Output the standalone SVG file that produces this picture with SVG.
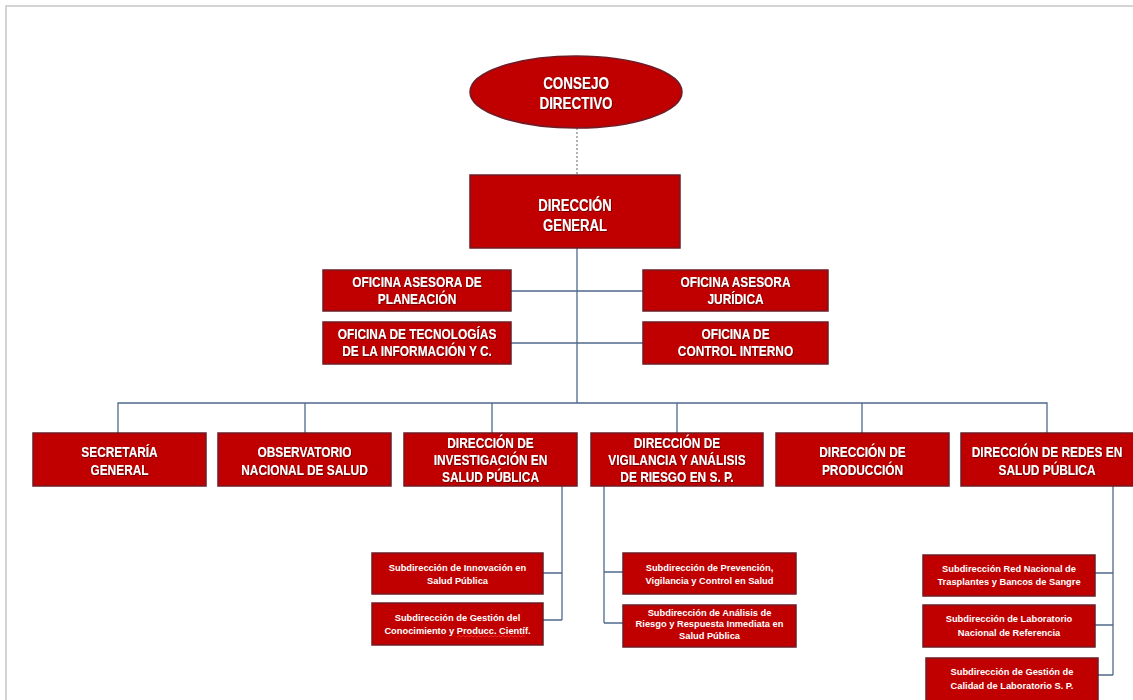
<svg xmlns="http://www.w3.org/2000/svg" width="1133" height="700" viewBox="0 0 1133 700">
<defs>
<filter id="sh" x="-10%" y="-30%" width="120%" height="160%">
<feDropShadow dx="0.8" dy="0.8" stdDeviation="0.4" flood-color="#3a0000" flood-opacity="0.8"/>
</filter>
<style>
.box{fill:#c00000;stroke:#6e1c26;stroke-width:1.5}
.t{fill:#fff;font-family:"Liberation Sans",Arial,sans-serif;font-weight:bold;text-anchor:middle;filter:url(#sh)}
.t16{font-size:16px}
.t14{font-size:14.5px}
.s{fill:#fff;font-family:"Liberation Sans",Arial,sans-serif;font-weight:bold;text-anchor:middle;font-size:9.3px}
.c{stroke:#4f6a8a;stroke-width:1.3;fill:none}
</style>
</defs>
<rect x="0" y="0" width="1133" height="700" fill="#fff"/>
<rect x="6" y="6" width="1150" height="720" fill="none" stroke="#d4d4d4" stroke-width="2"/>

<g id="connectors">
<line x1="577" y1="128" x2="577" y2="175" stroke="#666" stroke-width="1" stroke-dasharray="2,2"/>
<path class="c" d="M577 248V403M511 291H643M511 343H643M118 433V403H1047V433M305 403V433M492 403V433M677 403V433M862 403V433"/>
<path class="c" d="M562 486V620M543 573H562M543 620H562"/>
<path class="c" d="M604 486V623M604 572H623M604 623H623"/>
<path class="c" d="M1113 486V675M1095 573H1113M1095 625H1113M1098 675H1113"/>
</g>

<g id="consejo">
<ellipse cx="576" cy="92" rx="106" ry="36" class="box"/>
<text class="t t16" transform="translate(576,89) scale(0.84,1)"><tspan x="0">CONSEJO</tspan><tspan x="0" dy="20">DIRECTIVO</tspan></text>
</g>
<g id="direccion-general">
<rect x="470" y="175" width="210" height="73" class="box"/>
<text class="t t16" transform="translate(575,211) scale(0.82,1)"><tspan x="0">DIRECCIÓN</tspan><tspan x="0" dy="20">GENERAL</tspan></text>
</g>

<g id="of-planeacion">
<rect x="323" y="270" width="188" height="41" class="box"/>
<text class="t t14" transform="translate(417,287) scale(0.82,1)"><tspan x="0">OFICINA ASESORA DE</tspan><tspan x="0" dy="17">PLANEACIÓN</tspan></text>
</g>
<g id="of-tecnologias">
<rect x="323" y="322" width="188" height="42" class="box"/>
<text class="t t14" transform="translate(417,339) scale(0.82,1)"><tspan x="0">OFICINA DE TECNOLOGÍAS</tspan><tspan x="0" dy="17">DE LA INFORMACIÓN Y C.</tspan></text>
</g>
<g id="of-juridica">
<rect x="643" y="270" width="185" height="41" class="box"/>
<text class="t t14" transform="translate(735.5,287) scale(0.82,1)"><tspan x="0">OFICINA ASESORA</tspan><tspan x="0" dy="17">JURÍDICA</tspan></text>
</g>
<g id="of-control">
<rect x="643" y="322" width="185" height="42" class="box"/>
<text class="t t14" transform="translate(735.5,339) scale(0.82,1)"><tspan x="0">OFICINA DE</tspan><tspan x="0" dy="17">CONTROL INTERNO</tspan></text>
</g>

<g id="secretaria">
<rect x="33" y="433" width="173" height="53" class="box"/>
<text class="t t14" transform="translate(119.5,457) scale(0.82,1)"><tspan x="0">SECRETARÍA</tspan><tspan x="0" dy="18">GENERAL</tspan></text>
</g>
<g id="observatorio">
<rect x="218" y="433" width="173" height="53" class="box"/>
<text class="t t14" transform="translate(304.5,457) scale(0.82,1)"><tspan x="0">OBSERVATORIO</tspan><tspan x="0" dy="18">NACIONAL DE SALUD</tspan></text>
</g>
<g id="investigacion">
<rect x="404" y="433" width="173" height="53" class="box"/>
<text class="t t14" transform="translate(490.5,448) scale(0.82,1)"><tspan x="0">DIRECCIÓN DE</tspan><tspan x="0" dy="17">INVESTIGACIÓN EN</tspan><tspan x="0" dy="17">SALUD PÚBLICA</tspan></text>
</g>
<g id="vigilancia">
<rect x="591" y="433" width="172" height="53" class="box"/>
<text class="t t14" transform="translate(677,448) scale(0.82,1)"><tspan x="0">DIRECCIÓN DE</tspan><tspan x="0" dy="17">VIGILANCIA Y ANÁLISIS</tspan><tspan x="0" dy="17">DE RIESGO EN S. P.</tspan></text>
</g>
<g id="produccion">
<rect x="776" y="433" width="173" height="53" class="box"/>
<text class="t t14" transform="translate(862.5,457) scale(0.82,1)"><tspan x="0">DIRECCIÓN DE</tspan><tspan x="0" dy="18">PRODUCCIÓN</tspan></text>
</g>
<g id="redes">
<rect x="961" y="433" width="174" height="53" class="box"/>
<text class="t t14" transform="translate(1047,457) scale(0.82,1)"><tspan x="0">DIRECCIÓN DE REDES EN</tspan><tspan x="0" dy="18">SALUD PÚBLICA</tspan></text>
</g>

<g id="sub-innovacion">
<rect x="372" y="553" width="171" height="41" class="box"/>
<text class="s" x="457.5" y="571">Subdirección de Innovación en<tspan x="457.5" dy="12.5">Salud Pública</tspan></text>
</g>
<g id="sub-gestion-conocimiento">
<rect x="372" y="603" width="171" height="42" class="box"/>
<text class="s" x="457.5" y="621">Subdirección de Gestión del<tspan x="457.5" dy="12.5">Conocimiento y Producc. Científ.</tspan></text>
<path d="M457 637 l2 -1.5 l2 1.5 l2 -1.5 l2 1.5 l2 -1.5 l2 1.5 l2 -1.5 l2 1.5 l2 -1.5 l2 1.5 l2 -1.5 l2 1.5 l2 -1.5 l2 1.5 l2 -1.5 l2 1.5 l2 -1.5 l2 1.5 l2 -1.5 l2 1.5 l2 -1.5 l2 1.5 l2 -1.5 l2 1.5 l2 -1.5 l2 1.5 l2 -1.5 l2 1.5 l2 -1.5 l2 1.5 l2 -1.5 l2 1.5 l2 -1.5 l2 1.5" fill="none" stroke="#ff2a2a" stroke-width="0.9"/>
</g>
<g id="sub-prevencion">
<rect x="623" y="553" width="173" height="41" class="box"/>
<text class="s" x="709.5" y="571">Subdirección de Prevención,<tspan x="709.5" dy="13">Vigilancia y Control en Salud</tspan></text>
</g>
<g id="sub-analisis">
<rect x="623" y="605" width="173" height="42" class="box"/>
<text class="s" x="709.5" y="615.5">Subdirección de Análisis de<tspan x="709.5" dy="11.5">Riesgo y Respuesta Inmediata en</tspan><tspan x="709.5" dy="11.5">Salud Pública</tspan></text>
</g>
<g id="sub-trasplantes">
<rect x="923" y="555" width="172" height="41" class="box"/>
<text class="s" x="1009" y="571.5">Subdirección Red Nacional de<tspan x="1009" dy="13.5">Trasplantes y Bancos de Sangre</tspan></text>
</g>
<g id="sub-laboratorio">
<rect x="923" y="605" width="172" height="42" class="box"/>
<text class="s" x="1009" y="622">Subdirección de Laboratorio<tspan x="1009" dy="13.5">Nacional de Referencia</tspan></text>
</g>
<g id="sub-calidad">
<rect x="926" y="658" width="172" height="44" class="box"/>
<text class="s" x="1012" y="675">Subdirección de Gestión de<tspan x="1012" dy="13.5">Calidad de Laboratorio S. P.</tspan></text>
</g>
</svg>
